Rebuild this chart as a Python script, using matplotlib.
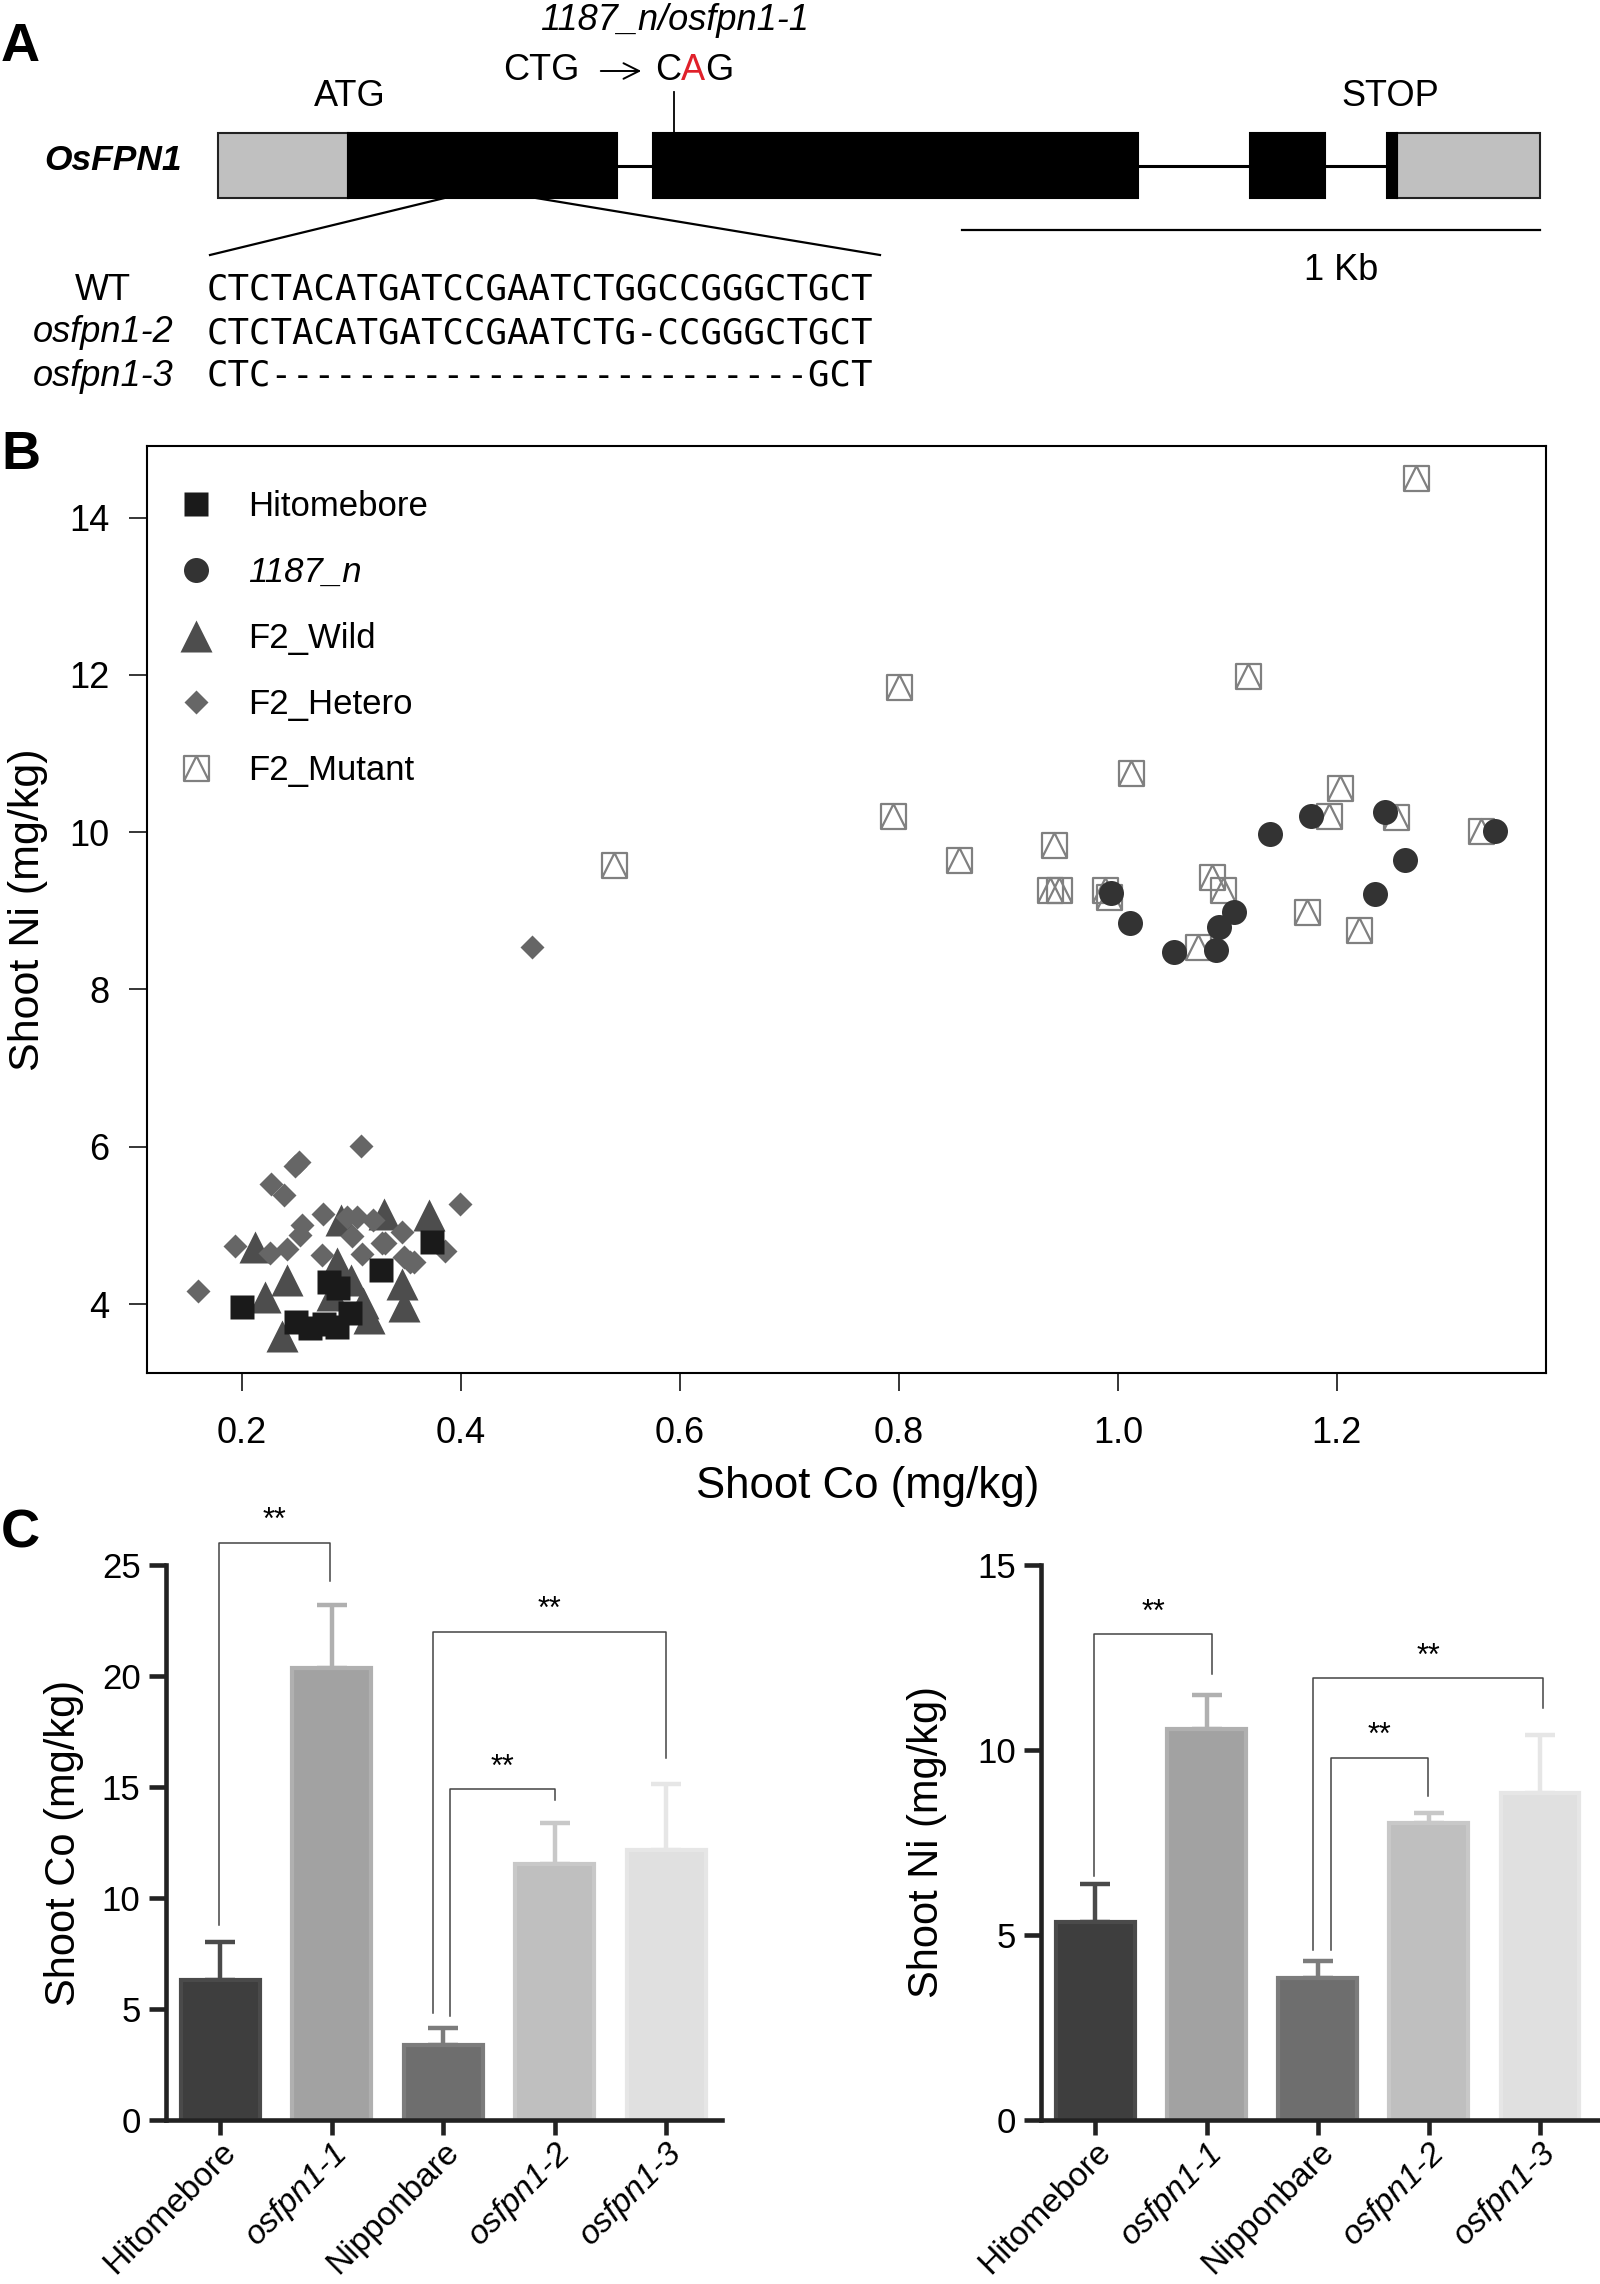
import matplotlib
matplotlib.use("Agg")
import matplotlib.pyplot as plt
from matplotlib.path import Path
from matplotlib.patches import Rectangle

plt.rcParams['font.family'] = ['Liberation Sans', 'DejaVu Sans']

W, H = 1600, 2284

# ---------------- panel A : gene model (bp from start of 5' UTR)
utr_segments = [(0, 225), (2040, 2287)]
cds_segments = [(225, 691), (753, 1591), (1785, 1916), (2022, 2040)]
mutation_bp = 789
zoom_bp = (392, 550)
scalebar_bp = 1000
seq_labels = ["WT", "osfpn1-2", "osfpn1-3"]
seq_rows = ["CTCTACATGATCCGAATCTGGCCGGGCTGCT",
            "CTCTACATGATCCGAATCTG-CCGGGCTGCT",
            "CTC" + "-" * 25 + "GCT"]

# ---------------- panel B : shoot Co vs shoot Ni
hito_co = [0.200, 0.250, 0.262, 0.275, 0.287, 0.299, 0.280, 0.288, 0.327, 0.374]
hito_ni = [3.96, 3.77, 3.69, 3.75, 3.71, 3.89, 4.28, 4.21, 4.43, 4.79]
n1187_co = [0.994, 1.011, 1.051, 1.090, 1.092, 1.106, 1.139, 1.176, 1.244, 1.262, 1.235, 1.344]
n1187_ni = [9.23, 8.85, 8.48, 8.50, 8.80, 8.99, 9.98, 10.21, 10.26, 9.65, 9.21, 10.01]
wild_co = [0.212, 0.241, 0.221, 0.237, 0.287, 0.291, 0.330, 0.371, 0.311, 0.316, 0.346, 0.348, 0.300, 0.282]
wild_ni = [4.73, 4.31, 4.09, 3.59, 4.52, 5.07, 5.15, 5.13, 4.01, 3.82, 4.26, 3.97, 4.30, 4.12]
het_co = [0.160, 0.194, 0.226, 0.241, 0.227, 0.239, 0.249, 0.252, 0.253, 0.255, 0.274, 0.273, 0.296,
          0.305, 0.301, 0.309, 0.310, 0.320, 0.328, 0.331, 0.346, 0.348, 0.354, 0.357, 0.386, 0.399, 0.465]
het_ni = [4.17, 4.74, 4.65, 4.70, 5.53, 5.39, 5.75, 5.81, 4.88, 5.00, 5.14, 4.62, 5.11,
          5.11, 4.86, 6.01, 4.64, 5.07, 4.77, 4.77, 4.92, 4.60, 4.54, 4.54, 4.67, 5.27, 8.54]
mut_co = [0.540, 0.795, 0.800, 0.855, 0.938, 0.946, 0.942, 0.988, 0.992, 1.012, 1.073, 1.086, 1.096,
          1.119, 1.173, 1.193, 1.203, 1.220, 1.254, 1.272, 1.332]
mut_ni = [9.58, 10.20, 11.84, 9.65, 9.26, 9.26, 9.84, 9.27, 9.17, 10.75, 8.54, 9.43, 9.26,
          11.98, 8.98, 10.21, 10.56, 8.76, 10.19, 14.50, 10.01]

# ---------------- panel C : bar charts
genotypes = ["Hitomebore", "osfpn1-1", "Nipponbare", "osfpn1-2", "osfpn1-3"]
co_mean = [6.31, 20.38, 3.38, 11.55, 12.18]
co_err = [1.69, 2.82, 0.76, 1.85, 2.95]
ni_mean = [5.35, 10.56, 3.83, 8.03, 8.85]
ni_err = [1.03, 0.92, 0.46, 0.28, 1.55]
# (left bar, right bar, bracket top, left leg end, right leg end, left shift, right shift)
co_brackets = [(0, 1, 26.0, 8.8, 24.3, -0.01, -0.02),
               (2, 4, 22.0, 4.8, 16.3, -0.09, 0.0),
               (2, 3, 14.9, 4.7, 14.4, 0.06, 0.0)]
ni_brackets = [(0, 1, 13.13, 6.6, 12.06, -0.01, 0.05),
               (2, 4, 11.94, 4.6, 11.13, -0.04, 0.03),
               (2, 3, 9.79, 4.6, 8.75, 0.12, -0.01)]

bar_fill = ["#3e3e3e", "#a2a2a2", "#6e6e6e", "#bfbfbf", "#e0e0e0"]
bar_edge = ["#4a4a4a", "#b0b0b0", "#7c7c7c", "#c8c8c8", "#e6e6e6"]

fig = plt.figure(figsize=(W / 100, H / 100), dpi=100)


def fax(left, top, right, bottom):
    """axes from pixel box (origin top-left)"""
    return fig.add_axes([left / W, 1 - bottom / H, (right - left) / W, (bottom - top) / H])


# ================= A
axa = fax(0, 0, W, 420)
axa.set_xlim(0, W)
axa.set_ylim(420, 0)
axa.axis("off")

x0, pxbp = 218, 0.578
gx = lambda bp: x0 + bp * pxbp
gtop, gbot = 133, 198
gmid = (gtop + gbot) / 2
fs_a = 26

axa.plot([gx(0), gx(utr_segments[-1][1])], [gmid, gmid], color="black", lw=2.2,
         solid_capstyle="butt", zorder=1)
for a, b in utr_segments:
    axa.add_patch(Rectangle((gx(a), gtop), (b - a) * pxbp, gbot - gtop,
                            facecolor="#c0c0c0", edgecolor="#222222", lw=1.5, zorder=2))
for a, b in cds_segments:
    axa.add_patch(Rectangle((gx(a), gtop), (b - a) * pxbp, gbot - gtop,
                            facecolor="black", edgecolor="black", lw=1.5, zorder=3))

axa.plot([gx(mutation_bp)] * 2, [gtop, 92], color="black", lw=1.3)
axa.text(gx(mutation_bp), 21, "1187_n/osfpn1-1", fontsize=fs_a, style="italic", ha="center", va="center")
axa.text(541, 71, "CTG", fontsize=fs_a, ha="center", va="center")
axa.annotate("", xy=(644, 71), xytext=(598, 71),
             arrowprops=dict(arrowstyle="->", lw=1.4, color="black", mutation_scale=28))
tc = axa.text(655, 71, "C", fontsize=fs_a, ha="left", va="center")
ta = axa.annotate("A", xy=(1, 0), xycoords=tc, fontsize=fs_a, color="#e0202a", va="bottom", ha="left")
axa.annotate("G", xy=(1, 0), xycoords=ta, fontsize=fs_a, va="bottom", ha="left")
axa.text(350, 97, "ATG", fontsize=fs_a, ha="center", va="center")
axa.text(1390, 97, "STOP", fontsize=fs_a, ha="center", va="center")
axa.text(182, 160, "OsFPN1", fontsize=25.5, fontweight="bold", style="italic", ha="right", va="center")

# zoom lines to the sequence block
axa.plot([gx(zoom_bp[0]), 210], [gbot, 255], color="black", lw=1.6)
axa.plot([gx(zoom_bp[1]), 880], [gbot, 255], color="black", lw=1.6)

# scale bar
sb_end = gx(utr_segments[-1][1])
axa.plot([sb_end - scalebar_bp * pxbp, sb_end], [230, 230], color="black", lw=1.6)
axa.text(1341, 271, "1 Kb", fontsize=fs_a, ha="center", va="center")

for i, (lab, seq) in enumerate(zip(seq_labels, seq_rows)):
    yy = 290 + i * 43
    axa.text(103, yy, lab, fontsize=fs_a, ha="center", va="center",
             style="normal" if i == 0 else "italic")
    axa.text(207, yy, seq, fontsize=25.7, family="DejaVu Sans Mono", ha="left", va="center")

# ================= B
axb = fax(147, 446, 1546, 1373)
mut_path = Path([(-1, -1), (1, -1), (1, 1), (-1, 1), (-1, -1), (-1, -1), (0, 1), (1, -1)],
                [Path.MOVETO, Path.LINETO, Path.LINETO, Path.LINETO, Path.CLOSEPOLY,
                 Path.MOVETO, Path.LINETO, Path.LINETO])

h_mut, = axb.plot(mut_co, mut_ni, ls="none", marker=mut_path, ms=18, mfc="none",
                  mec="#808080", mew=1.6, zorder=2)
h_wild, = axb.plot(wild_co, wild_ni, ls="none", marker="^", ms=23, color="#4d4d4d", mec="none", zorder=3)
h_het, = axb.plot(het_co, het_ni, ls="none", marker="D", ms=12.2, color="#666666", mec="none", zorder=4)
h_n, = axb.plot(n1187_co, n1187_ni, ls="none", marker="o", ms=18, color="#333333", mec="none", zorder=5)
h_hit, = axb.plot(hito_co, hito_ni, ls="none", marker="s", ms=17, color="#1a1a1a", mec="none", zorder=6)

axb.set_xlim(0.1135, 1.391)
axb.set_ylim(3.123, 14.91)
axb.set_xticks([0.2, 0.4, 0.6, 0.8, 1.0, 1.2])
axb.set_xticklabels(["0.2", "0.4", "0.6", "0.8", "1.0", "1.2"])
axb.set_yticks([4, 6, 8, 10, 12, 14])
axb.tick_params(axis="both", labelsize=26, length=13, width=1.1, pad=14)
axb.tick_params(axis="x", pad=18)
for s in axb.spines.values():
    s.set_linewidth(1.5)
axb.set_xlabel("Shoot Co (mg/kg)", fontsize=31.5)
axb.set_ylabel("Shoot Ni (mg/kg)", fontsize=31)
axb.xaxis.set_label_coords(0.515, -0.1)
axb.yaxis.set_label_coords(-0.071, 0.5)

leg = axb.legend([h_hit, h_n, h_wild, h_het, h_mut],
                 ["Hitomebore", "1187_n", "F2_Wild", "F2_Hetero", "F2_Mutant"],
                 loc="upper left", bbox_to_anchor=(0, 1 - 13 / 927), frameon=False,
                 fontsize=25, numpoints=1, handlelength=1.0, handletextpad=1.0,
                 labelspacing=0.95, borderaxespad=0.5, borderpad=0.4)
leg.get_texts()[1].set_fontstyle("italic")


# ================= C
def bar_panel(ax, means, errs, brackets, ymax, ylabel, xright):
    xs = list(range(len(genotypes)))
    ax.bar(xs, means, width=0.71, color=bar_fill, edgecolor=bar_edge, linewidth=3, zorder=2)
    for x, m, e, c in zip(xs, means, errs, bar_edge):
        ax.errorbar([x], [m], yerr=[[0], [e]], fmt="none", ecolor=c, elinewidth=3.2,
                    capsize=11, capthick=3.2, zorder=1)
    for i, j, top, yl, yr, dl, dr in brackets:
        xl, xr = i + dl, j + dr
        ax.plot([xl, xl, xr, xr], [yl, top, top, yr], color="#444444", lw=1.1, clip_on=False)
        ax.text((xl + xr) / 2, top + ymax * 0.012, "**", fontsize=22, ha="center", va="bottom")
    ax.set_xlim(-0.49, xright)
    ax.set_ylim(0, ymax)
    ax.spines[["top", "right"]].set_visible(False)
    for s in ("left", "bottom"):
        ax.spines[s].set_linewidth(3.3)
        ax.spines[s].set_color("#222222")
    ax.set_xticks(xs)
    ax.set_xticklabels(genotypes, rotation=45, ha="right", va="top", rotation_mode="anchor")
    for t in ax.get_xticklabels():
        if t.get_text().startswith("osfpn"):
            t.set_fontstyle("italic")
    ax.tick_params(axis="x", labelsize=24, length=11, width=3.3, color="#222222", pad=1)
    ax.tick_params(axis="y", labelsize=25, length=12, width=3.3, color="#222222", pad=6)
    ax.set_ylabel(ylabel, fontsize=30)


axc1 = fax(165.6, 1565, 722, 2120)
bar_panel(axc1, co_mean, co_err, co_brackets, 25, "Shoot Co (mg/kg)", 4.5)
axc1.set_yticks([0, 5, 10, 15, 20, 25])
axc1.yaxis.set_label_coords(-0.146, 0.5)

axc2 = fax(1041, 1565, 1600, 2120)
bar_panel(axc2, ni_mean, ni_err, ni_brackets, 15, "Shoot Ni (mg/kg)", 4.54)
axc2.set_yticks([0, 5, 10, 15])
axc2.yaxis.set_label_coords(-0.168, 0.5)

# panel letters
for letter, ybase in (("A", 61), ("B", 469), ("C", 1547)):
    fig.text(1 / W, 1 - ybase / H, letter, fontsize=39, fontweight="bold", ha="left", va="baseline")

fig.savefig("out.png", dpi=100)
